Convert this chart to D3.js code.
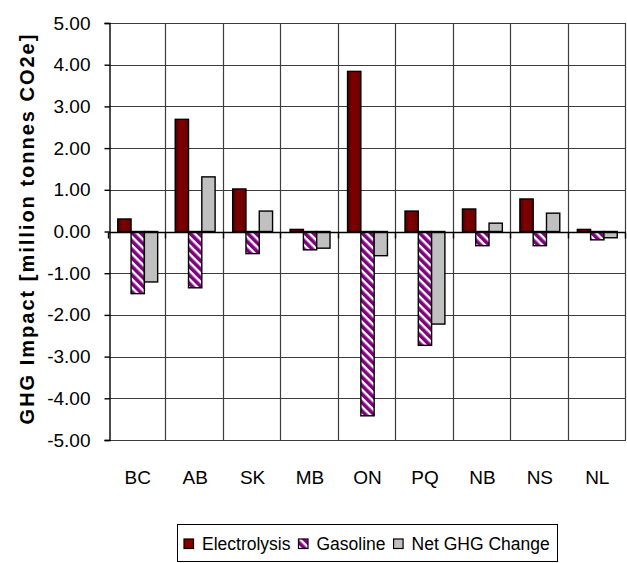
<!DOCTYPE html>
<html>
<head>
<meta charset="utf-8">
<script src="https://cdn.jsdelivr.net/npm/d3@7"></script>
<style>
  html, body { margin: 0; padding: 0; background: #fff; }
  svg { display: block; }
  text { font-family: "Liberation Sans", Arial, Helvetica, sans-serif; fill: #000; }
</style>
</head>
<body>
<svg id="chart" width="627" height="563"></svg>
<script>
// Provinces along the horizontal axis
const categories = ["BC", "AB", "SK", "MB", "ON", "PQ", "NB", "NS", "NL"];

// GHG impact per province, million tonnes CO2e
const electrolysis = [0.30, 2.69, 1.02, 0.05, 3.84, 0.49, 0.54, 0.78, 0.05];
const gasoline     = [-1.49, -1.35, -0.53, -0.44, -4.42, -2.73, -0.34, -0.34, -0.20];
const netChange    = [-1.21, 1.31, 0.49, -0.40, -0.58, -2.22, 0.20, 0.44, -0.15];

const seriesNames = ["Electrolysis", "Gasoline", "Net GHG Change"];

// Value axis ticks and their labels
const yTicks = [5, 4, 3, 2, 1, 0, -1, -2, -3, -4, -5];
const yTickLabels = ["5.00", "4.00", "3.00", "2.00", "1.00", "0.00", "-1.00", "-2.00", "-3.00", "-4.00", "-5.00"];

const yTitle = "GHG Impact [million tonnes CO2e]";

const svg = d3.select("#chart");
const plot = { left: 109, right: 626, top: 23, bottom: 440 };

// Patterns and gradients
const defs = svg.append("defs");
const grad = defs.append("linearGradient").attr("id", "elecFill")
  .attr("x1", "0%").attr("x2", "100%").attr("y1", "0%").attr("y2", "0%");
grad.append("stop").attr("offset", "0%").attr("stop-color", "#4a0000");
grad.append("stop").attr("offset", "35%").attr("stop-color", "#800000");
grad.append("stop").attr("offset", "100%").attr("stop-color", "#6a0000");

const stripes = defs.append("pattern").attr("id", "gasStripes")
  .attr("patternUnits", "userSpaceOnUse")
  .attr("width", 6).attr("height", 6)
  .attr("patternTransform", "rotate(-45)");
stripes.append("rect").attr("width", 6).attr("height", 6).attr("fill", "#ffffff");
stripes.append("rect").attr("width", 3.6).attr("height", 6).attr("fill", "#800080");

const fills = ["url(#elecFill)", "url(#gasStripes)", "#c0c0c0"];
const legendFills = ["#800000", "url(#gasStripes)", "#c0c0c0"];

// Scales
const x = d3.scaleBand().domain(categories).range([plot.left, plot.right]).padding(0);
const y = d3.scaleLinear().domain([-5, 5]).range([plot.bottom, plot.top]);

const barW = x.bandwidth() / (3 + 1.32);
const groupOffset = (x.bandwidth() - 3 * barW) / 2;
const xInner = d3.scaleBand().domain(d3.range(3))
  .range([groupOffset, groupOffset + 3 * barW]).padding(0);

// Horizontal gridlines
svg.append("g")
  .selectAll("line").data(yTicks).join("line")
  .attr("x1", plot.left).attr("x2", plot.right)
  .attr("y1", d => Math.round(y(d)) + 0.5).attr("y2", d => Math.round(y(d)) + 0.5)
  .attr("stroke", "#3c3c3c").attr("stroke-width", 1.2);

// Vertical gridlines on category boundaries
const bounds = categories.map(c => x(c)).concat([plot.right]);
svg.append("g")
  .selectAll("line").data(bounds.slice(1)).join("line")
  .attr("x1", d => Math.round(d) - 0.5).attr("x2", d => Math.round(d) - 0.5)
  .attr("y1", plot.top).attr("y2", plot.bottom)
  .attr("stroke", "#3c3c3c").attr("stroke-width", 1.2);

// Bars
const rows = categories.map((c, i) => ({ c, vals: [electrolysis[i], gasoline[i], netChange[i]] }));
const groups = svg.append("g").selectAll("g").data(rows).join("g")
  .attr("transform", d => `translate(${x(d.c)},0)`);
groups.selectAll("rect").data(d => d.vals.map((v, k) => ({ v, k }))).join("rect")
  .attr("x", d => xInner(d.k))
  .attr("width", xInner.bandwidth())
  .attr("y", d => y(Math.max(0, d.v)))
  .attr("height", d => Math.abs(y(d.v) - y(0)))
  .attr("fill", d => fills[d.k])
  .attr("stroke", "#000").attr("stroke-width", 1.4);

// Zero line with category ticks
const zeroY = Math.round(y(0)) + 0.5;
svg.append("line")
  .attr("x1", plot.left).attr("x2", plot.right)
  .attr("y1", zeroY).attr("y2", zeroY)
  .attr("stroke", "#000").attr("stroke-width", 1.4);
svg.append("g").selectAll("line").data(bounds).join("line")
  .attr("x1", d => Math.round(d) - 0.5).attr("x2", d => Math.round(d) - 0.5)
  .attr("y1", zeroY).attr("y2", zeroY + 6)
  .attr("stroke", "#000").attr("stroke-width", 1.4);

// Value axis
const yAxis = d3.axisLeft(y).tickValues(yTicks).tickSize(5).tickPadding(14)
  .tickFormat((d, i) => yTickLabels[i]);
const yg = svg.append("g").attr("transform", `translate(${plot.left + 0.5},0)`).call(yAxis);
yg.select(".domain").attr("stroke", "#000").attr("stroke-width", 1.4);
yg.selectAll(".tick line").attr("stroke", "#000").attr("stroke-width", 1.4);
yg.selectAll(".tick text")
  .attr("font-size", 19).attr("fill", "#000")
  .attr("font-family", "'Liberation Sans', Arial, sans-serif");

// Category labels
svg.append("g").selectAll("text").data(categories).join("text")
  .attr("x", d => x(d) + x.bandwidth() / 2)
  .attr("y", 484)
  .attr("text-anchor", "middle")
  .attr("font-size", 19)
  .text(d => d);

// Value axis title
svg.append("text")
  .attr("transform", `translate(34,${(plot.top + plot.bottom) / 2 - 3}) rotate(-90)`)
  .attr("text-anchor", "middle")
  .attr("font-size", 20)
  .attr("font-weight", "bold")
  .attr("letter-spacing", "2px")
  .text(yTitle);

// Legend
const legend = svg.append("g");
const box = legend.append("rect")
  .attr("x", 177.5).attr("y", 524.5).attr("width", 380).attr("height", 37)
  .attr("fill", "#fff").attr("stroke", "#000").attr("stroke-width", 1);
let lx = 184;
seriesNames.forEach((name, k) => {
  legend.append("rect")
    .attr("x", lx).attr("y", 539).attr("width", 9.5).attr("height", 9.5)
    .attr("fill", legendFills[k]).attr("stroke", "#000").attr("stroke-width", 1.2);
  const t = legend.append("text")
    .attr("x", lx + 18).attr("y", 549.5)
    .attr("font-size", 17.5)
    .text(name);
  lx += 18 + t.node().getComputedTextLength() + 8;
});
</script>
</body>
</html>
